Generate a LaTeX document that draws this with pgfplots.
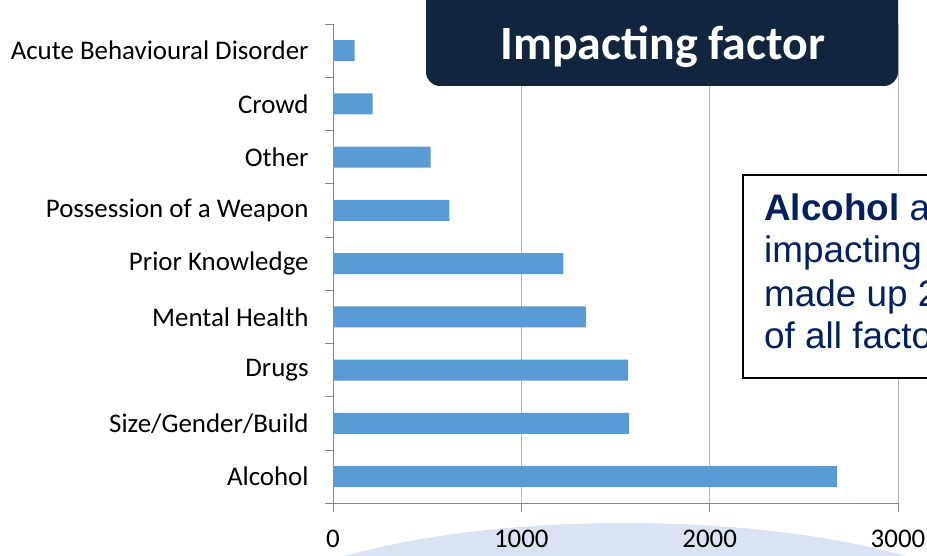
\documentclass[border=0pt]{standalone}
\usepackage{pgfplots}
\pgfplotsset{compat=1.18}
\usepackage{fontspec}
\setmainfont{Carlito}
\newfontfamily\arial{Liberation Sans}
\definecolor{barblue}{RGB}{91,155,213}
\definecolor{navybox}{RGB}{18,37,63}
\definecolor{navytext}{RGB}{0,32,96}
\definecolor{ellblue}{RGB}{218,227,243}
\definecolor{axgray}{RGB}{134,134,134}
\definecolor{gridgray}{RGB}{180,180,180}
\begin{document}
\begin{tikzpicture}[x=1bp,y=1bp]
\useasboundingbox (0,0) rectangle (927,556);
\clip (0,0) rectangle (927,556);
\fill[ellblue] (625,-82) ellipse [x radius=400, y radius=115];
\begin{axis}[at={(333bp,52.7bp)}, anchor=south west, scale only axis,
  width=565bp, height=479.3bp,
  xbar, bar width=21bp, xmin=0, xmax=3000, ymin=-0.5, ymax=8.5,
  axis x line*=bottom, axis y line*=left,
  axis line style={draw=axgray, line width=0.8bp, -},
  xtick={0,1000,2000,3000}, xmajorgrids,
  grid style={gridgray, line width=0.8bp},
  ytick={0,...,8},
  yticklabels={Alcohol, Size/Gender/Build, Drugs, Mental Health, Prior Knowledge, Possession of a Weapon, Other, Crowd, Acute Behavioural Disorder},
  minor ytick={-0.5,0.5,...,8.5},
  tick align=outside, major tick length=8.4bp, minor tick length=8bp,
  major y tick style={draw=none},
  tick style={axgray, line width=0.8bp},
  ticklabel style={font=\fontsize{27}{32}\selectfont, text=black},
  yticklabel style={xshift=-12.5bp},
  xticklabel style={yshift=-15bp},
  /pgf/number format/assume math mode=true,
  /pgf/number format/set thousands separator={},
]
\addplot[fill=barblue, draw=none] coordinates {(2677,0) (1572,1) (1567,2) (1342,3) (1223,4) (618,5) (518,6) (210,7) (115,8)};
\end{axis}
\fill[navybox, rounded corners=14bp] (426,470) rectangle (898,575);
\node[anchor=base, text=white, inner sep=0pt, font=\fontsize{48}{56}\selectfont\bfseries] at (663,496) {Impacting factor};
\draw[black, line width=1.3bp, fill=white] (743,178) rectangle (990,381);
\begin{scope}[every node/.style={anchor=base west, inner sep=0pt, text=navytext, font=\arial\fontsize{37}{42}\selectfont}]
\node at (764,335) {\textbf{Alcohol} as the};
\node at (764,293) {impacting factor};
\node at (764,249) {made up 27\%};
\node at (764,207) {of all factors};
\end{scope}
\end{tikzpicture}
\end{document}
